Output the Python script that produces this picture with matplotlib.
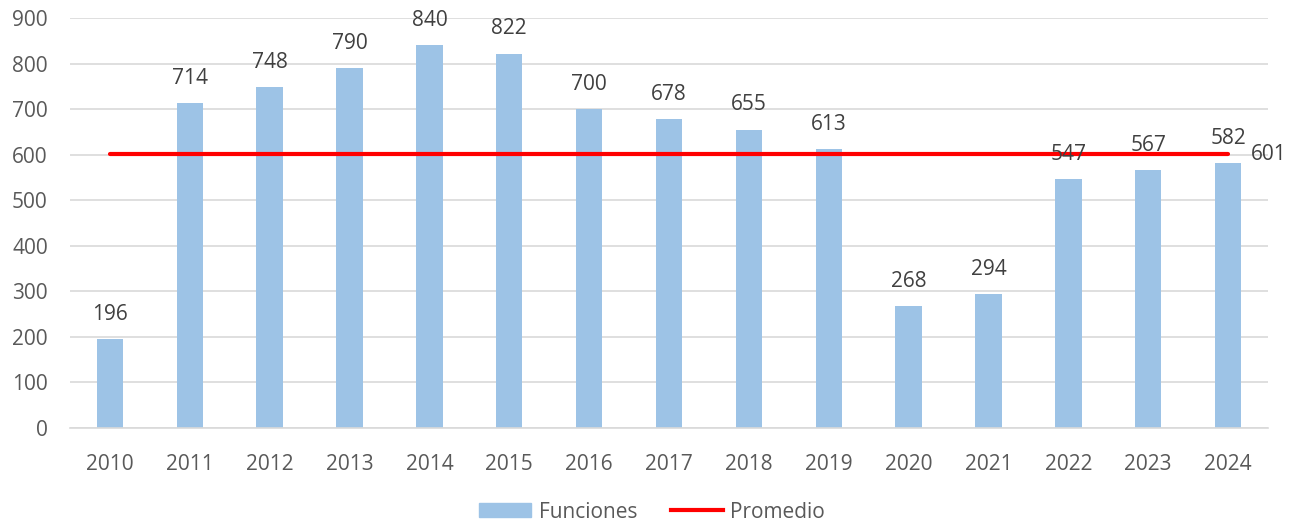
import matplotlib
matplotlib.use("Agg")
import matplotlib.pyplot as plt
from matplotlib.lines import Line2D
from matplotlib.patches import Patch

years = ["2010", "2011", "2012", "2013", "2014", "2015", "2016", "2017",
         "2018", "2019", "2020", "2021", "2022", "2023", "2024"]
funciones = [196, 714, 748, 790, 840, 822, 700, 678, 655, 613, 268, 294, 547, 567, 582]
promedio = 601

plt.rcParams['font.family'] = ['Open Sans', 'DejaVu Sans']
txt = '#595959'
bar_c = '#9dc3e6'

fig = plt.figure(figsize=(12.97, 5.25), dpi=100)
ax = fig.add_axes([70/1297, 1-428/525, 1198/1297, 410/525])
x = list(range(len(years)))
ax.bar(x, funciones, width=0.33, color=bar_c, zorder=2)
ax.plot([x[0], x[-1]], [promedio, promedio], color='#ff0000', lw=3, zorder=3,
        solid_capstyle='round')
for xi, v in zip(x, funciones):
    ax.text(xi, v + 31, str(v), ha='center', va='bottom', fontsize=15, color='#404040', zorder=4)
ax.text(x[-1] + 0.28, promedio, str(promedio), ha='left', va='center', fontsize=15, color='#404040')

ax.set_xlim(-0.5, len(years) - 0.5)
ax.set_ylim(0, 900)
ax.set_yticks(range(0, 901, 100))
ax.set_xticks(x)
ax.set_xticklabels(years)
ax.tick_params(axis='both', length=0, labelsize=15, colors=txt)
ax.tick_params(axis='y', pad=16)
ax.tick_params(axis='x', pad=19)
ax.grid(axis='y', color='#d9d9d9', lw=1.2, zorder=0)
ax.set_axisbelow(True)
for s in ['top', 'right', 'left']:
    ax.spines[s].set_visible(False)
ax.spines['bottom'].set_color('#d9d9d9')
ax.spines['bottom'].set_linewidth(1.2)

handles = [Patch(color=bar_c, label='Funciones'),
           Line2D([0], [0], color='#ff0000', lw=3, label='Promedio')]
fig.legend(handles=handles, loc='center', bbox_to_anchor=(652/1297, 1-512/525), ncol=2,
           frameon=False, fontsize=15, labelcolor=txt, handlelength=2.5,
           handleheight=0.65, columnspacing=1.6, handletextpad=0.35)
fig.savefig('out.png', dpi=100)
